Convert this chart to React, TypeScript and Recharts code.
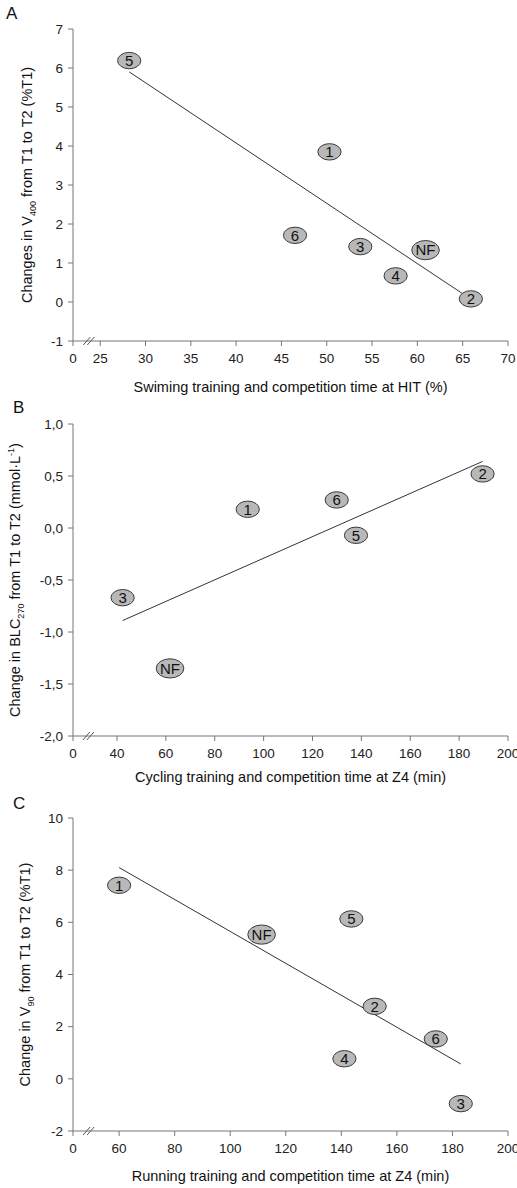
import React from 'react';
import {ScatterChart, Scatter, XAxis, YAxis, ReferenceLine, ReferenceDot, Label} from 'recharts';

const FONT = '"Liberation Sans", Arial, sans-serif';

// Panel A - swimming
const swimSubjects = ['5', '1', '6', '3', 'NF', '4', '2'];
const swimHit = [28.2, 50.3, 46.5, 53.7, 60.9, 57.6, 65.9];
const swimV400 = [6.19, 3.85, 1.71, 1.42, 1.33, 0.67, 0.08];
const swimFitX = [28.2, 65.4];
const swimFitY = [5.9, 0.15];
const swimXTicks = [22, 25, 30, 35, 40, 45, 50, 55, 60, 65, 70];
const swimXTickLabels = ['0', '25', '30', '35', '40', '45', '50', '55', '60', '65', '70'];
const swimYTicks = [-1, 0, 1, 2, 3, 4, 5, 6, 7];

// Panel B - cycling
const cycleSubjects = ['3', 'NF', '1', '6', '5', '2'];
const cycleZ4 = [42.3, 61.7, 93.5, 129.9, 137.8, 189.6];
const cycleBlc = [-0.67, -1.35, 0.18, 0.27, -0.07, 0.52];
const cycleFitX = [42.3, 189.6];
const cycleFitY = [-0.89, 0.64];
const cycleXTicks = [22, 40, 60, 80, 100, 120, 140, 160, 180, 200];
const cycleXTickLabels = ['0', '40', '60', '80', '100', '120', '140', '160', '180', '200'];
const cycleYTicks = [-2, -1.5, -1, -0.5, 0, 0.5, 1];

// Panel C - running
const runSubjects = ['1', 'NF', '5', '2', '6', '4', '3'];
const runZ4 = [60, 111.3, 143.6, 152, 174, 141.1, 183];
const runV90 = [7.42, 5.53, 6.13, 2.78, 1.53, 0.77, -0.95];
const runFitX = [60, 183];
const runFitY = [8.1, 0.57];
const runXTicks = [43.4, 60, 80, 100, 120, 140, 160, 180, 200];
const runXTickLabels = ['0', '60', '80', '100', '120', '140', '160', '180', '200'];
const runYTicks = [-2, 0, 2, 4, 6, 8, 10];

const Bubble = (props: any) => {
    const {cx, cy, payload} = props;
    const big = payload.name === 'NF';
    return (
        <g>
            <ellipse cx={cx} cy={cy} rx={big ? 13.8 : 11.6} ry={big ? 9.6 : 8.2}
                     fill="#b8b8b8" stroke="#3a3a3a" strokeWidth={1}/>
            <text x={cx} y={cy + 5.3} textAnchor="middle" fontSize={15} fontFamily={FONT} fill="#111">
                {payload.name}
            </text>
        </g>
    );
};

const BreakMark = (props: any) => {
    const {cx, cy} = props;
    return (
        <g stroke="#555" strokeWidth={1}>
            <line x1={cx - 6} y1={cy + 4} x2={cx + 1} y2={cy - 4}/>
            <line x1={cx - 2} y1={cy + 4} x2={cx + 5} y2={cy - 4}/>
        </g>
    );
};

type PanelProps = {
    top: number; height: number; plotTop: number; xAxisHeight: number;
    letter: string; letterTop: number; letterLeft: number;
    subjects: string[]; xs: number[]; ys: number[];
    fitX: number[]; fitY: number[];
    xTicks: number[]; xTickLabels: string[]; yTicks: number[];
    yFormat: (v: number) => string;
    breakAt: number; xTitle: string; xTitleY: number;
    yTitleX: number; yTitle: React.ReactNode;
};

const Panel = (p: PanelProps) => {
    const data = p.subjects.map((name, i) => ({name, x: p.xs[i], y: p.ys[i]}));
    const xMin = p.xTicks[0];
    const xMax = p.xTicks[p.xTicks.length - 1];
    const yMin = p.yTicks[0];
    const yMax = p.yTicks[p.yTicks.length - 1];
    const axisColor = '#777';
    const tickStyle = {fill: '#222', fontSize: 13.5, fontFamily: FONT};
    return (
        <div style={{position: 'absolute', left: 0, top: p.top, width: 517, height: p.height}}>
            <div style={{
                position: 'absolute', left: p.letterLeft, top: p.letterTop,
                fontSize: 17, fontFamily: FONT, color: '#111', lineHeight: '17px'
            }}>{p.letter}</div>
            <ScatterChart width={517} height={p.height}
                          margin={{top: p.plotTop, right: 9, left: 0, bottom: 0}}>
                <XAxis type="number" dataKey="x" domain={[xMin, xMax]} ticks={p.xTicks}
                       tickFormatter={(v: number) => p.xTickLabels[p.xTicks.indexOf(v)]}
                       height={p.xAxisHeight} tickSize={5} tickMargin={7}
                       axisLine={{stroke: axisColor}} tickLine={{stroke: axisColor}} tick={tickStyle}
                       interval={0} allowDataOverflow>
                    <Label content={(lp: any) => {
                        const vb = lp.viewBox || {x: 73, width: 435};
                        return (
                            <text x={vb.x + vb.width / 2} y={p.xTitleY} textAnchor="middle"
                                  fontSize={14.5} fontFamily={FONT} fill="#111">{p.xTitle}</text>
                        );
                    }}/>
                </XAxis>
                <YAxis type="number" dataKey="y" domain={[yMin, yMax]} ticks={p.yTicks}
                       tickFormatter={p.yFormat} width={73} tickSize={5} tickMargin={5}
                       axisLine={{stroke: axisColor}} tickLine={{stroke: axisColor}} tick={tickStyle}
                       interval={0} allowDataOverflow>
                    <Label content={(lp: any) => {
                        const vb = lp.viewBox || {y: p.plotTop, height: 312};
                        const cy = vb.y + vb.height / 2;
                        return (
                            <text x={p.yTitleX} y={cy} textAnchor="middle" fontSize={14.5}
                                  fontFamily={FONT} fill="#111"
                                  transform={`rotate(-90, ${p.yTitleX}, ${cy})`}>{p.yTitle}</text>
                        );
                    }}/>
                </YAxis>
                <ReferenceLine segment={[{x: p.fitX[0], y: p.fitY[0]}, {x: p.fitX[1], y: p.fitY[1]}]}
                               stroke="#333" strokeWidth={1} ifOverflow="visible"/>
                <ReferenceDot x={p.breakAt} y={yMin} r={0} ifOverflow="visible" shape={BreakMark}/>
                <Scatter data={data} shape={Bubble} isAnimationActive={false}/>
            </ScatterChart>
        </div>
    );
};

const comma = (v: number) => v.toFixed(1).replace('.', ',');

export default function App() {
    return (
        <div style={{position: 'absolute', left: 0, top: 0, width: 517, height: 1188, background: '#fff'}}>
            <Panel top={0} height={396} plotTop={29} xAxisHeight={55}
                   letter="A" letterLeft={6} letterTop={5}
                   subjects={swimSubjects} xs={swimHit} ys={swimV400}
                   fitX={swimFitX} fitY={swimFitY}
                   xTicks={swimXTicks} xTickLabels={swimXTickLabels} yTicks={swimYTicks}
                   yFormat={(v) => String(v)} breakAt={23.8}
                   xTitle="Swiming training and competition time at HIT (%)" xTitleY={392}
                   yTitleX={32}
                   yTitle={<>Changes in V<tspan dy={4} fontSize={9}>400</tspan><tspan dy={-4}> from T1 to T2 (%T1)</tspan></>}/>
            <Panel top={396} height={390} plotTop={28} xAxisHeight={50}
                   letter="B" letterLeft={13} letterTop={3}
                   subjects={cycleSubjects} xs={cycleZ4} ys={cycleBlc}
                   fitX={cycleFitX} fitY={cycleFitY}
                   xTicks={cycleXTicks} xTickLabels={cycleXTickLabels} yTicks={cycleYTicks}
                   yFormat={comma} breakAt={28.5}
                   xTitle="Cycling training and competition time at Z4 (min)" xTitleY={386}
                   yTitleX={20}
                   yTitle={<>Change in BLC<tspan dy={4} fontSize={9}>270</tspan><tspan dy={-4}> from T1 to T2 (mmol·L</tspan><tspan dy={-6} fontSize={9}>-1</tspan><tspan dy={6}>)</tspan></>}/>
            <Panel top={786} height={402} plotTop={32} xAxisHeight={57}
                   letter="C" letterLeft={13} letterTop={9}
                   subjects={runSubjects} xs={runZ4} ys={runV90}
                   fitX={runFitX} fitY={runFitY}
                   xTicks={runXTicks} xTickLabels={runXTickLabels} yTicks={runYTicks}
                   yFormat={(v) => String(v)} breakAt={49.2}
                   xTitle="Running training and competition time at Z4 (min)" xTitleY={395}
                   yTitleX={30}
                   yTitle={<>Change in V<tspan dy={4} fontSize={9}>90</tspan><tspan dy={-4}> from T1 to T2 (%T1)</tspan></>}/>
        </div>
    );
}
